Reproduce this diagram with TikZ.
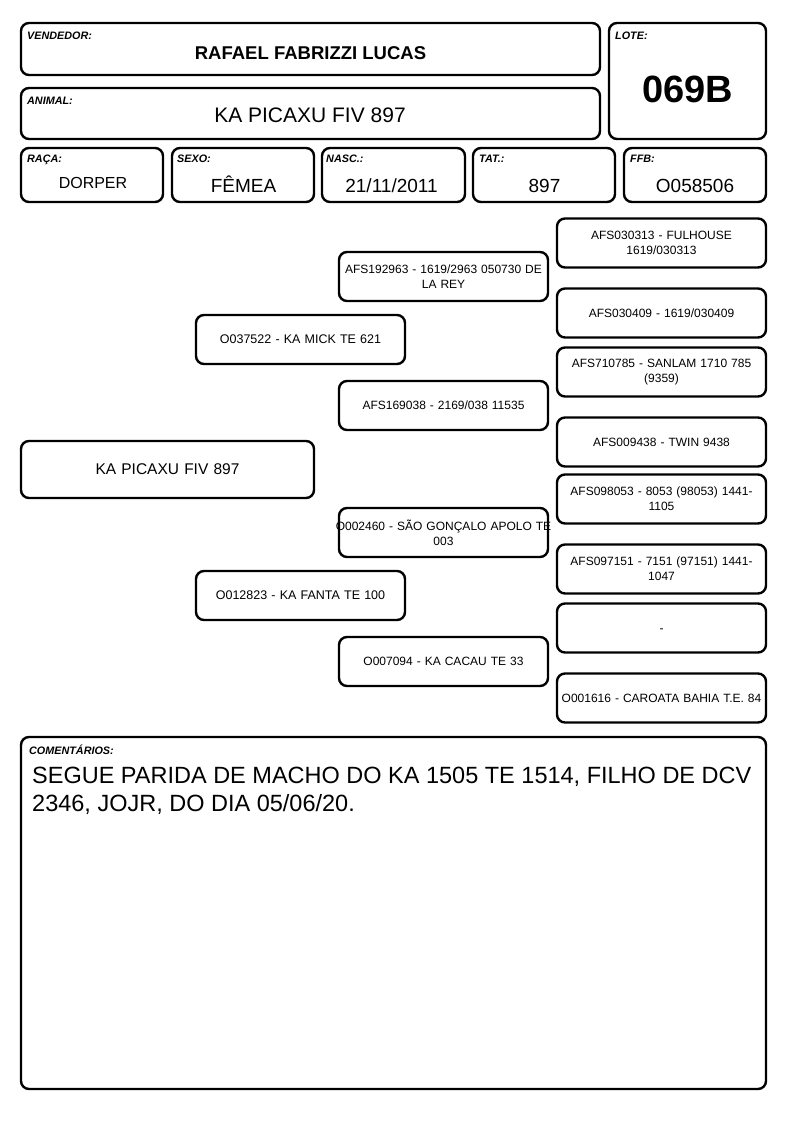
\documentclass[tikz,border=0pt]{standalone}
\usepackage{fontspec}
\setmainfont{Liberation Sans}
\usetikzlibrary{positioning}

\begin{document}
\begin{tikzpicture}[x=1pt,y=-1pt,
	card/.style={draw,line width=2.4pt,rounded corners=8pt,inner sep=0pt,outer sep=0pt},
	tag/.style={inner sep=0pt,font=\fontsize{10.8}{12}\selectfont\bfseries\itshape},
	val/.style={inner sep=0pt,anchor=base},
	ped/.style={card,minimum width=209pt,minimum height=49pt,text width=209pt,align=center,font=\fontsize{12}{15}\selectfont}]
	\useasboundingbox (0,0) rectangle (794,1123);

	% header
	\node[card,minimum width=579pt,minimum height=52pt] (vend) at (310.5,49) {};
	\node[card,minimum width=579pt,minimum height=51pt] (anim) at (310.5,113.5) {};
	\node[card,minimum width=157pt,minimum height=116pt] (lote) at (687.5,81) {};
	\node[card,minimum width=142pt,minimum height=54pt] (raca) at (92,175) {};
	\node[card,minimum width=142pt,minimum height=54pt] (sexo) at (243,175) {};
	\node[card,minimum width=143pt,minimum height=54pt] (nasc) at (393.5,175) {};
	\node[card,minimum width=142pt,minimum height=54pt] (tat) at (544,175) {};
	\node[card,minimum width=142pt,minimum height=54pt] (ffb) at (695,175) {};

	\node[tag] (vendtag) [below right=8.5pt and 6pt of vend.north west] {VENDEDOR:};
	\node[tag] (animtag) [below right=8.5pt and 6pt of anim.north west] {ANIMAL:};
	\node[tag] (lotetag) [below right=8.5pt and 6pt of lote.north west] {LOTE:};
	\node[tag] (racatag) [below right=7pt and 6pt of raca.north west] {RAÇA:};
	\node[tag] (sexotag) [below right=7pt and 5pt of sexo.north west] {SEXO:};
	\node[tag] (nasctag) [below right=7pt and 4pt of nasc.north west] {NASC.:};
	\node[tag] (tattag) [below right=7pt and 6pt of tat.north west] {TAT.:};
	\node[tag] (ffbtag) [below right=7pt and 6pt of ffb.north west] {FFB:};

	\node[val,font=\fontsize{18.5}{20}\selectfont\bfseries] (vendval) at (310.5,60) {RAFAEL FABRIZZI LUCAS};
	\node[val,font=\fontsize{21}{24}\selectfont] (animval) at (310,123) {KA PICAXU FIV 897};
	\node[val,font=\fontsize{38}{42}\selectfont\bfseries] (loteval) at (687.5,103) {069B};
	\node[val,font=\fontsize{16}{19}\selectfont] (racaval) at (93,189) {DORPER};
	\node[val,font=\fontsize{19}{22}\selectfont] (sexoval) at (243.5,193) {FÊMEA};
	\node[val,font=\fontsize{19}{22}\selectfont] (nascval) at (391.5,193) {21/11/2011};
	\node[val,font=\fontsize{19}{22}\selectfont] (tatval) at (544.5,193) {897};
	\node[val,font=\fontsize{19}{22}\selectfont] (ffbval) at (695,193) {O058506};

	% pedigree
	\node[ped,minimum width=293pt,text width=293pt,minimum height=57pt,font=\fontsize{15.5}{19}\selectfont] (an) at (167.5,469.5) {KA PICAXU FIV 897};
	\node[ped,font=\fontsize{12.5}{16}\selectfont] (s) at (300.5,339.5) {O037522 - KA MICK TE 621};
	\node[ped,font=\fontsize{12.5}{16}\selectfont] (d) at (300.5,595.5) {O012823 - KA FANTA TE 100};
	\node[ped] (ss) at (443.5,276.5) {AFS192963 - 1619/2963 050730 DE\\LA REY};
	\node[ped] (sd) at (443.5,405.5) {AFS169038 - 2169/038 11535};
	\node[ped] (ds) at (443.5,532.5) {\makebox[209pt]{O002460 - SÃO GONÇALO APOLO TE}\\003};
	\node[ped] (dd) at (443.5,661.5) {O007094 - KA CACAU TE 33};
	\node[ped] (sss) at (661.5,243) {AFS030313 - FULHOUSE\\1619/030313};
	\node[ped] (ssd) at (661.5,313) {AFS030409 - 1619/030409};
	\node[ped] (sds) at (661.5,372) {AFS710785 - SANLAM 1710 785\\(9359)};
	\node[ped] (sdd) at (661.5,442) {AFS009438 - TWIN 9438};
	\node[ped] (dss) at (661.5,499) {AFS098053 - 8053 (98053) 1441-\\1105};
	\node[ped] (dsd) at (661.5,569) {AFS097151 - 7151 (97151) 1441-\\1047};
	\node[ped] (dds) at (661.5,628) {\vphantom{0}-};
	\node[ped] (ddd) at (661.5,698) {O001616 - CAROATA BAHIA T.E. 84};

	% comments
	\node[card,minimum width=745pt,minimum height=352pt] (coment) at (393.5,913) {};
	\node[tag] (comenttag) [below right=8pt and 8pt of coment.north west] {COMENTÁRIOS:};
	\node[inner sep=0pt,anchor=north west,align=left,font=\fontsize{23.5}{28}\selectfont] (comentval) at (32,767)
		{SEGUE PARIDA DE MACHO DO KA 1505 TE 1514, FILHO DE DCV\\2346, JOJR, DO DIA 05/06/20.};
\end{tikzpicture}
\end{document}
